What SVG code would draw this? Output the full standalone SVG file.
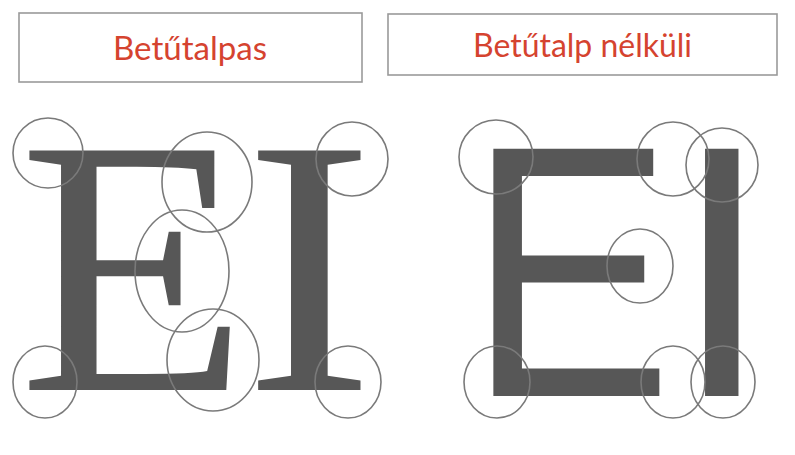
<svg xmlns="http://www.w3.org/2000/svg" width="795" height="455" viewBox="0 0 795 455">
<style>
.box{fill:#fff;stroke:#9a9a9a;stroke-width:1.6}
.title{font-family:Lato,"Open Sans",sans-serif;font-size:32px;fill:#d5432f;text-anchor:start}
.serif{font-family:"Liberation Serif","Times New Roman",serif;font-size:362px;fill:#575757}
.sans{font-family:"Liberation Sans",Arial,sans-serif;font-size:348px;fill:#575757}
.mark{fill:none;stroke:#7a7a7a;stroke-width:1.6}
</style>
<rect width="795" height="455" fill="#fff"/>
<g id="label-serif">
<rect class="box" x="19" y="13" width="343" height="69"/>
<text class="title" x="113" y="60" textLength="154" lengthAdjust="spacingAndGlyphs">Betűtalpas</text>
</g>
<g id="label-sans">
<rect class="box" x="388" y="14" width="389" height="61"/>
<text class="title" x="473" y="57" textLength="219" lengthAdjust="spacingAndGlyphs">Betűtalp nélküli</text>
</g>
<g id="serif-letters">
<text class="serif" transform="translate(30,390) scale(1.04,1.01)" x="-11" y="0">E</text>
<text class="serif" transform="translate(257,390) scale(1.08,1.01)" x="-12" y="0">I</text>
</g>
<g id="sans-letters">
<text class="sans" transform="translate(492,396) scale(0.88,1.033)" x="-27" y="0">E</text>
<text class="sans" transform="translate(708,396) scale(1.03,1.033)" x="-35" y="0">I</text>
</g>
<g id="serif-marks">
<circle class="mark" cx="48" cy="153" r="35"/>
<ellipse class="mark" cx="207" cy="182" rx="45" ry="50"/>
<ellipse class="mark" cx="182" cy="271" rx="47" ry="61"/>
<ellipse class="mark" cx="213" cy="360" rx="46" ry="51"/>
<ellipse class="mark" cx="45" cy="382" rx="32" ry="36"/>
<ellipse class="mark" cx="352" cy="159" rx="36" ry="37"/>
<ellipse class="mark" cx="348" cy="382" rx="33" ry="36"/>
</g>
<g id="sans-marks">
<ellipse class="mark" cx="496" cy="157" rx="37" ry="37"/>
<ellipse class="mark" cx="673" cy="159" rx="36" ry="37"/>
<ellipse class="mark" cx="722" cy="165" rx="36" ry="37"/>
<ellipse class="mark" cx="640" cy="266" rx="33" ry="37"/>
<ellipse class="mark" cx="497" cy="382" rx="33" ry="36"/>
<ellipse class="mark" cx="673" cy="382" rx="32" ry="36"/>
<ellipse class="mark" cx="723" cy="382" rx="32" ry="36"/>
</g>
</svg>
